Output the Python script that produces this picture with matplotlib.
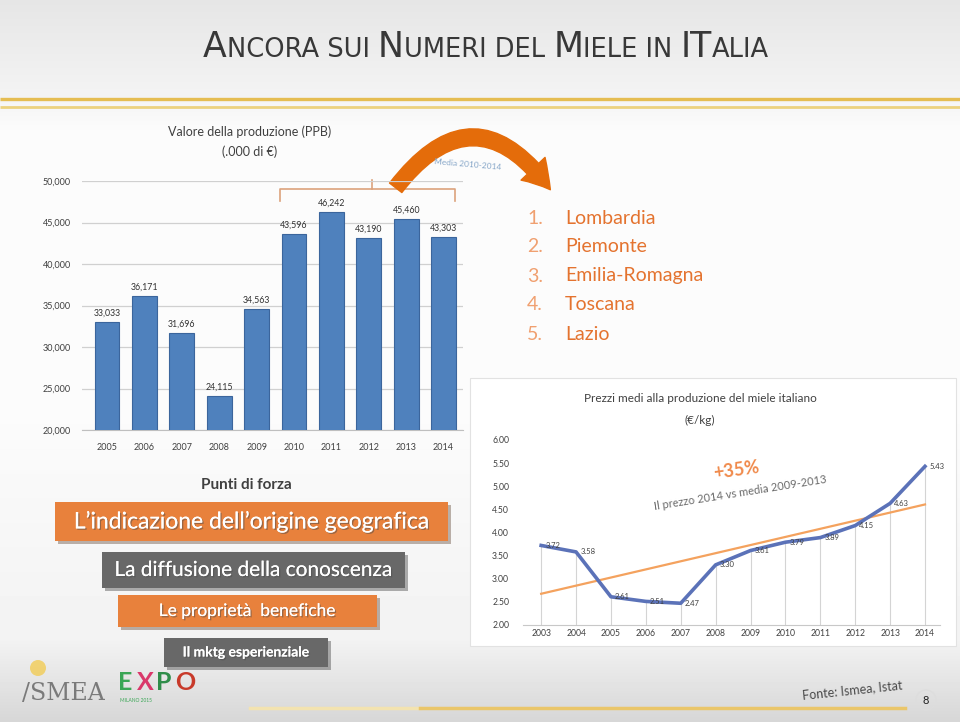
import matplotlib.pyplot as plt
import numpy as np
from matplotlib.patches import Rectangle, FancyArrowPatch, Circle
from matplotlib.offsetbox import TextArea, HPacker, AnnotationBbox
import matplotlib.patheffects as pe

plt.rcParams['font.family'] = ['Lato', 'DejaVu Sans']

# -------------- data ---------------------------------------------
years_val = ['2005', '2006', '2007', '2008', '2009', '2010', '2011', '2012', '2013', '2014']
valore = [33033, 36171, 31696, 24115, 34563, 43596, 46242, 43190, 45460, 43303]

years_price = ['2003', '2004', '2005', '2006', '2007', '2008', '2009', '2010', '2011', '2012', '2013', '2014']
prezzi = [3.72, 3.58, 2.61, 2.51, 2.47, 3.30, 3.61, 3.79, 3.89, 4.15, 4.63, 5.43]

regioni = ['Lombardia', 'Piemonte', 'Emilia-Romagna', 'Toscana', 'Lazio']
punti_forza = ["L\u2019indicazione dell\u2019origine geografica", 'La diffusione della conoscenza',
               'Le propriet\u00e0  benefiche', 'Il mktg esperienziale']
# -----------------------------------------------------------------

W, H = 960, 722
fig = plt.figure(figsize=(9.6, 7.22), dpi=100)


def rect(x0, y0, x1, y1):
    # pixel box (top-left origin) -> figure fraction
    return [x0 / W, 1 - y1 / H, (x1 - x0) / W, (y1 - y0) / H]


# ------------ slide background --------------------------
bg = fig.add_axes([0, 0, 1, 1])
stops_y = [0, 90, 130, 420, 640, 722]
stops_c = [0.90, 0.95, 0.985, 0.985, 0.95, 0.84]
grad = np.interp(np.arange(H), stops_y, stops_c)
bg.imshow(np.repeat(grad[:, None], 2, axis=1), cmap='gray', vmin=0, vmax=1,
          extent=[0, W, H, 0], aspect='auto', zorder=0)
bg.set_xlim(0, W)
bg.set_ylim(H, 0)
bg.axis('off')

# gold rules under the title
bg.plot([0, W], [99, 99], color='#e5bd52', lw=2.4, solid_capstyle='butt')
bg.plot([0, W], [107, 107], color='#ecd27e', lw=2.0, solid_capstyle='butt')
# bottom rule
bg.plot([250, 420], [708, 708], color='#f3e3b0', lw=2.5)
bg.plot([420, 905], [708, 708], color='#eac66a', lw=2.5)

# title in small caps
big, small = 25, 18.5
tfont = ['Liberation Sans Narrow', 'DejaVu Sans']
parts = [('A', big), ('NCORA SUI ', small), ('N', big), ('UMERI DEL ', small),
         ('M', big), ('IELE IN ', small), ('IT', big), ('ALIA', small)]
boxes = [TextArea(t, textprops=dict(fontsize=s, color='#383838', family=tfont))
         for t, s in parts]
pack = HPacker(children=boxes, align='baseline', pad=0, sep=0)
bg.add_artist(AnnotationBbox(pack, (486, 47), xycoords='data', frameon=False,
                             box_alignment=(0.5, 0.5)))

# ------------- bar chart: valore della produzione ---------------
ax1 = fig.add_axes(rect(82, 181, 463, 430))
ax1.set_facecolor('none')
x1 = np.arange(len(years_val))
bars = ax1.bar(x1, valore, width=0.66, color='#4f81bd', edgecolor='#3b659c', linewidth=0.8, zorder=3)
for b, v in zip(bars, valore):
    ax1.text(b.get_x() + b.get_width() / 2, v + 500, f'{v:,}', ha='center', va='bottom',
             fontsize=6.3, color='#303030')
ax1.set_ylim(20000, 50000)
ax1.set_xlim(-0.67, 9.52)
ax1.set_yticks(np.arange(20000, 50001, 5000))
ax1.set_yticklabels([f'{t:,}' for t in range(20000, 50001, 5000)])
ax1.set_xticks(x1)
ax1.set_xticklabels(years_val)
ax1.tick_params(axis='both', length=0, labelsize=6.5, colors='#404040')
ax1.tick_params(axis='y', pad=8)
ax1.tick_params(axis='x', pad=9)
ax1.grid(axis='y', color='#d0d0d0', lw=0.9, zorder=0)
for s in ['top', 'right', 'left']:
    ax1.spines[s].set_visible(False)
ax1.spines['bottom'].set_color('#bfbfbf')

bg.text(250, 132, 'Valore della produzione (PPB)', ha='center', va='center', fontsize=9, color='#404040')
bg.text(250, 152, '(.000 di \u20ac)', ha='center', va='center', fontsize=9, color='#404040')

# bracket over 2010-2014
bc = '#dca27c'
bg.plot([280, 280, 455, 455], [201, 189, 189, 201], color=bc, lw=1.2)
bg.plot([372, 372], [189, 180], color=bc, lw=1.2)

# curved arrow
arr = FancyArrowPatch((394, 190), (552, 192), connectionstyle='arc3,rad=-0.68',
                      arrowstyle='simple,head_width=1.7,head_length=1.4,tail_width=0.8',
                      mutation_scale=14, color='#e46c0a', zorder=5)
bg.add_patch(arr)
bg.text(468, 164, 'Media 2010-2014', ha='center', va='center', fontsize=6, color='#86a6c8',
        rotation=-5, zorder=6)

# top regions
for i, r in enumerate(regioni):
    yy = 218 + 29 * i
    bg.text(527, yy, f'{i + 1}.', ha='left', va='center', fontsize=14, color='#f0a070')
    bg.text(565, yy, r, ha='left', va='center', fontsize=14, color='#e4732f')

# ------------- price chart --------------------------------------
bg.add_patch(Rectangle((470, 378), 486, 268, facecolor='white', edgecolor='#e2e2e2', lw=0.8, zorder=1))
ax2 = fig.add_axes(rect(523, 440, 940, 625))
ax2.set_facecolor('none')
x2 = np.arange(len(years_price))
ax2.vlines(x2, 2.0, prezzi, color='#d4d4d4', lw=0.8, zorder=1)
coef = np.polyfit(x2, prezzi, 1)
ax2.plot(x2, np.polyval(coef, x2), color='#f4a25e', lw=1.6, zorder=2)
ax2.plot(x2, prezzi, color='#5b72b8', lw=2.6, zorder=3, solid_joinstyle='round')
for xi, v in zip(x2, prezzi):
    ax2.text(xi + 0.12, v, f'{v:.2f}', ha='left', va='center', fontsize=5.5, color='#404040', zorder=4)
ax2.set_ylim(2.0, 6.0)
ax2.set_xlim(-0.52, 11.43)
ax2.set_yticks(np.arange(2.0, 6.01, 0.5))
ax2.set_yticklabels([f'{t:.2f}' for t in np.arange(2.0, 6.01, 0.5)])
ax2.set_xticks(x2)
ax2.set_xticklabels(years_price)
ax2.tick_params(axis='both', length=0, labelsize=6.2, colors='#404040')
ax2.tick_params(axis='y', pad=10)
ax2.tick_params(axis='x', pad=3)
for s in ['top', 'right', 'left']:
    ax2.spines[s].set_visible(False)
ax2.spines['bottom'].set_color('#c8c8c8')

bg.text(700, 399, 'Prezzi medi alla produzione del miele italiano', ha='center', va='center',
        fontsize=8.5, color='#404040', zorder=6)
bg.text(700, 420, '(\u20ac/kg)', ha='center', va='center', fontsize=8.5, color='#404040', zorder=6)
fig.text(736 / W, 1 - 470 / H, '+35%', ha='center', va='center', fontsize=13, fontweight='bold',
         color='#f08a4b', rotation=8)
fig.text(740 / W, 1 - 493 / H, 'Il prezzo 2014 vs media 2009-2013', ha='center', va='center',
         fontsize=8, color='#6a6a6a', rotation=9)

# ------------- punti di forza -----------------------------------
bg.text(246, 485, 'Punti di forza', ha='center', va='center', fontsize=11, fontweight='bold', color='#404040')
box_geo = [(55, 502, 448, 541), (102, 552, 405, 588), (118, 595, 377, 627), (164, 638, 328, 667)]
box_col = ['#e8813c', '#686868', '#e8813c', '#686868']
box_fs = [16.5, 15, 12.5, 10]
box_fw = ['normal', 'normal', 'normal', 'bold']
for (x0, y0, x1_, y1_), c, fs, fw, t in zip(box_geo, box_col, box_fs, box_fw, punti_forza):
    bg.add_patch(Rectangle((x0, y0), x1_ - x0, y1_ - y0, facecolor=c, edgecolor='none', zorder=2,
                           path_effects=[pe.withSimplePatchShadow(offset=(2, -2), alpha=0.35)]))
    bg.text((x0 + x1_) / 2, (y0 + y1_) / 2, t, ha='center', va='center', fontsize=fs, color='white',
            fontweight=fw, zorder=3,
            path_effects=[pe.withSimplePatchShadow(offset=(1, -1), alpha=0.5), pe.Normal()])

# ------------- logos / footer -----------------------------------
bg.add_patch(Circle((38, 668), 8, facecolor='#f2cc55', edgecolor='none', alpha=0.8, zorder=2))
bg.text(22, 693, '/SMEA', ha='left', va='center', fontsize=17, color='#7a7a7a', family='DejaVu Serif')
for i, (ch, c) in enumerate(zip('EXPO', ['#3aa655', '#d9386a', '#2f8d4a', '#c83a2a'])):
    bg.text(118 + 19 * i, 682, ch, ha='left', va='center', fontsize=18, fontweight='bold', color=c)
bg.text(120, 700, 'MILANO 2015', ha='left', va='center', fontsize=3.5, color='#3aa655')

bg.text(852, 690, 'Fonte: Ismea, Istat', ha='center', va='center', fontsize=9, color='#4a4a4a',
        rotation=6)
bg.add_patch(Circle((926, 700), 10, facecolor='none', edgecolor='#dddddd', lw=1.0))
bg.text(926, 700, '8', ha='center', va='center', fontsize=8, color='#202020')

fig.savefig('out.png', dpi=100)
